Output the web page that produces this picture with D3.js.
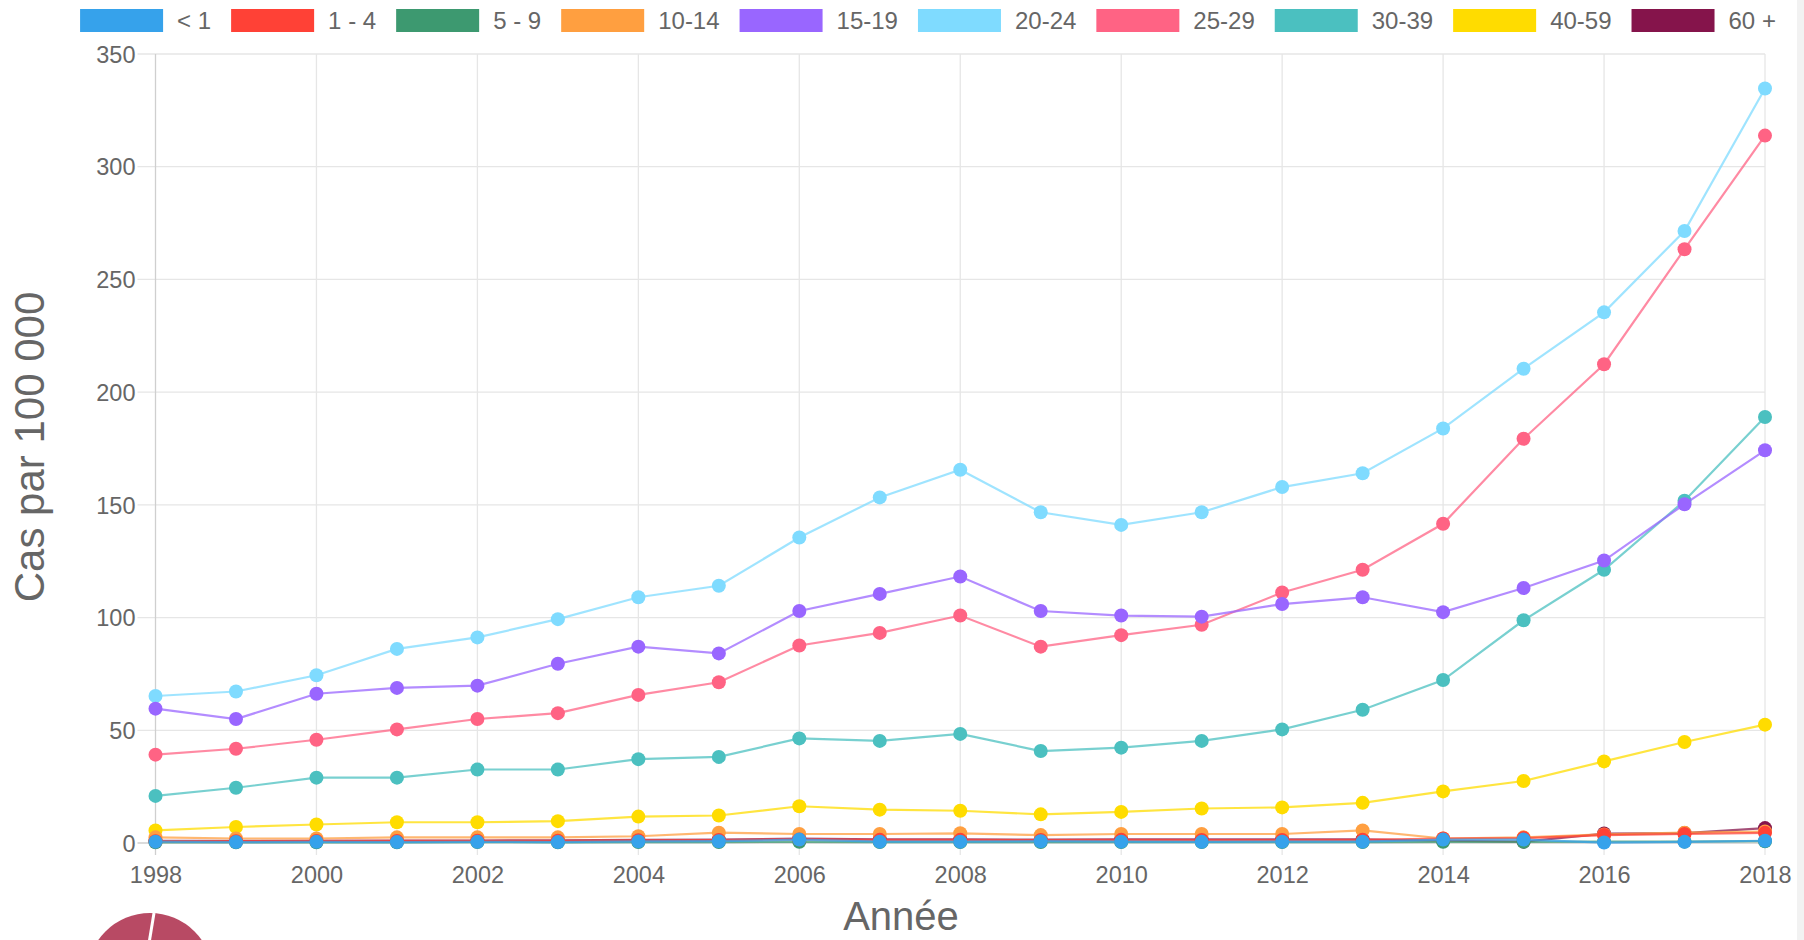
<!DOCTYPE html>
<html>
<head>
<meta charset="utf-8">
<script src="https://cdn.jsdelivr.net/npm/d3@7"></script>
<style>
  html, body { margin: 0; padding: 0; background: #fff; }
  svg { display: block; font-family: "Liberation Sans", Arial, sans-serif; }
</style>
</head>
<body>
<svg id="chart" width="1804" height="940"></svg>
<script>
// Incidence per 100 000 by age group, 1998–2018
const years = d3.range(1998, 2019);
const groups = ["< 1", "1 - 4", "5 - 9", "10-14", "15-19", "20-24", "25-29", "30-39", "40-59", "60 +"];
const colors = ["#36A2EB", "#FF4136", "#3D9970", "#FF9F40", "#9966FF", "#7FDBFF", "#FF6384", "#4BC0C0", "#FFDC00", "#85144B"];

const ageUnder1 = [0.6, 0.4, 0.5, 0.4, 0.5, 0.4, 0.7, 0.8, 1.5, 0.6, 0.6, 0.8, 0.6, 0.5, 0.6, 0.6, 1.5, 1.5, 0.2, 0.5, 1.0];
const age1to4   = [0.8, 0.8, 0.9, 0.9, 1.0, 1.0, 1.2, 1.3, 1.6, 1.4, 1.4, 1.3, 1.4, 1.3, 1.3, 1.4, 2.0, 2.2, 3.5, 4.0, 4.5];
const age5to9   = [0.3, 0.3, 0.3, 0.3, 0.4, 0.3, 0.4, 0.4, 0.5, 0.4, 0.4, 0.4, 0.4, 0.4, 0.4, 0.4, 0.5, 0.5, 0.6, 0.6, 0.8];
const age10to14 = [2.5, 2.0, 2.0, 2.5, 2.5, 2.5, 3.0, 4.6, 4.0, 4.0, 4.3, 3.5, 4.0, 4.0, 4.0, 5.6, 2.0, 2.5, 3.8, 4.6, 5.1];
const age15to19 = [59.6, 55.0, 66.2, 68.8, 69.8, 79.5, 87.1, 84.1, 102.9, 110.5, 118.2, 102.9, 100.9, 100.4, 106.0, 109.0, 102.4, 113.1, 125.3, 150.3, 174.2];
const age20to24 = [65.2, 67.2, 74.4, 86.1, 91.2, 99.3, 109.0, 114.1, 135.5, 153.3, 165.6, 146.7, 141.1, 146.7, 157.9, 164.0, 183.9, 210.4, 235.4, 271.5, 334.7];
const age25to29 = [39.2, 41.8, 45.8, 50.4, 55.0, 57.6, 65.7, 71.3, 87.6, 93.2, 100.9, 87.1, 92.2, 96.8, 111.1, 121.2, 141.6, 179.3, 212.4, 263.4, 313.8];
const age30to39 = [20.9, 24.5, 29.0, 29.0, 32.6, 32.6, 37.2, 38.2, 46.4, 45.3, 48.4, 40.8, 42.3, 45.3, 50.4, 59.1, 72.3, 98.8, 121.2, 151.8, 189.0];
const age40to59 = [5.6, 7.1, 8.2, 9.2, 9.2, 9.7, 11.7, 12.2, 16.3, 14.8, 14.3, 12.7, 13.8, 15.3, 15.8, 17.8, 22.9, 27.5, 36.2, 44.8, 52.5];
const age60plus = [1.0, 1.0, 1.0, 1.1, 1.1, 1.2, 1.4, 1.5, 2.0, 1.6, 1.6, 1.5, 1.6, 1.6, 1.6, 1.6, 1.0, 0.6, 4.2, 4.4, 6.6];

const seriesValues = [ageUnder1, age1to4, age5to9, age10to14, age15to19, age20to24, age25to29, age30to39, age40to59, age60plus];
const yTicks = [0, 50, 100, 150, 200, 250, 300, 350];
const xTicks = d3.range(1998, 2019, 2);

const series = groups.map((g, i) => ({ name: g, color: colors[i], values: seriesValues[i] }));

const svg = d3.select("#chart");
const plotLeft = 155.5, plotRight = 1765, plotTop = 54, plotBottom = 843;

const x = d3.scaleLinear().domain([1998, 2018]).range([plotLeft, plotRight]);
const y = d3.scaleLinear().domain([0, 350]).range([plotBottom, plotTop]);

// faint strip along the right edge
svg.append("rect").attr("x", 1797).attr("y", 0).attr("width", 7).attr("height", 940).attr("fill", "#f2f2f2");

// grid
const grid = svg.append("g");
grid.selectAll(".hg").data(yTicks).join("line")
  .attr("x1", plotLeft - 18).attr("x2", plotRight)
  .attr("y1", d => y(d)).attr("y2", d => y(d))
  .attr("stroke", d => d === 0 ? "#cfcfcf" : "#e6e6e6").attr("stroke-width", 1.3);
grid.selectAll(".vg").data(xTicks).join("line")
  .attr("x1", d => x(d)).attr("x2", d => x(d))
  .attr("y1", plotTop).attr("y2", plotBottom + 12)
  .attr("stroke", d => d === 1998 ? "#cfcfcf" : "#e6e6e6").attr("stroke-width", 1.3);

// tick labels via d3 axes
const yAxis = svg.append("g").attr("transform", `translate(${plotLeft - 20},0)`)
  .call(d3.axisLeft(y).tickValues(yTicks).tickSize(0).tickPadding(0));
const xAxis = svg.append("g").attr("transform", `translate(0,${plotBottom + 21})`)
  .call(d3.axisBottom(x).tickValues(xTicks).tickFormat(d3.format("d")).tickSize(0).tickPadding(0));
[yAxis, xAxis].forEach(a => {
  a.select(".domain").remove();
  a.selectAll("text").attr("fill", "#666").style("font-size", "23.5px").style("font-family", "Liberation Sans, Arial, sans-serif");
});
yAxis.selectAll("text").attr("dy", "0.35em");
xAxis.selectAll("text").attr("dy", "0.8em");

// axis titles
svg.append("text")
  .attr("transform", `translate(44,447) rotate(-90)`)
  .attr("text-anchor", "middle")
  .attr("fill", "#666").style("font-size", "42px")
  .text("Cas par 100 000");
svg.append("text")
  .attr("x", 901).attr("y", 930)
  .attr("text-anchor", "middle")
  .attr("fill", "#666").style("font-size", "40px")
  .text("Année");

// lines and points, first series drawn on top
const line = d3.line().x((d, i) => x(years[i])).y(d => y(d));
const layers = svg.append("g").selectAll("g").data(series.slice().reverse()).join("g");
layers.append("path")
  .attr("d", d => line(d.values))
  .attr("fill", "none")
  .attr("stroke", d => d.color)
  .attr("stroke-opacity", 0.75)
  .attr("stroke-width", 2.2);
layers.selectAll("circle").data(d => d.values.map((v, i) => ({ v, i, c: d.color }))).join("circle")
  .attr("cx", d => x(years[d.i]))
  .attr("cy", d => y(d.v))
  .attr("r", 7)
  .attr("fill", d => d.c);

// legend
const legend = svg.append("g");
const boxW = 83, boxH = 23, gap = 14, spacing = 20;
const items = legend.selectAll("g").data(series).join("g");
items.append("rect").attr("width", boxW).attr("height", boxH).attr("y", 9)
  .attr("fill", d => d.color);
items.append("text").attr("x", boxW + gap).attr("y", 29)
  .attr("fill", "#666").style("font-size", "24px")
  .text(d => d.name);
let cursor = 0;
items.each(function () {
  const w = d3.select(this).select("text").node().getComputedTextLength();
  d3.select(this).attr("transform", `translate(${cursor},0)`);
  cursor += boxW + gap + w + spacing;
});
const totalW = cursor - spacing;
legend.attr("transform", `translate(${928 - totalW / 2},0)`);

// organisation mark at the bottom-left corner
const logo = svg.append("g").attr("transform", "translate(150,976)");
logo.append("circle").attr("r", 63).attr("fill", "#B84A64");
logo.append("path").attr("d", "M 4,-63 L -8,10").attr("stroke", "#fff").attr("stroke-width", 3);
logo.append("path").attr("d", "M -52,-35 L -30,-5").attr("stroke", "#fff").attr("stroke-width", 3);
</script>
</body>
</html>
